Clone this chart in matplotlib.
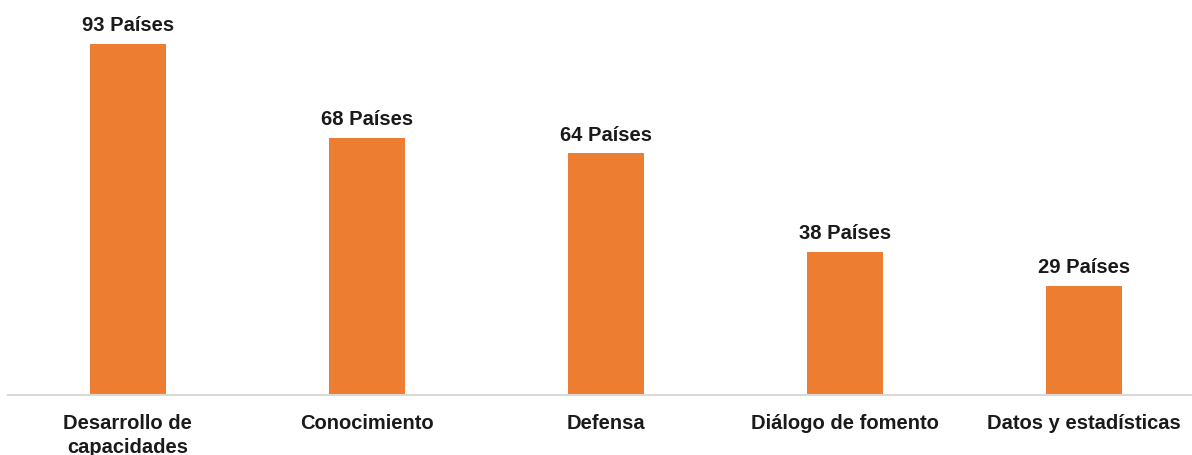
import matplotlib
matplotlib.use("Agg")
import matplotlib.pyplot as plt

categories = ["Desarrollo de\ncapacidades", "Conocimiento", "Defensa",
              "Diálogo de fomento", "Datos y estadísticas"]
values = [93, 68, 64, 38, 29]
value_labels = [f"{v} Países" for v in values]

plt.rcParams['font.family'] = ['Liberation Sans', 'DejaVu Sans']

fig = plt.figure(figsize=(11.92, 4.56), dpi=100)
ax = fig.add_axes([8/1192, 1 - 396/456, 1 - 8/1192, 396/456])

x = list(range(len(categories)))
bars = ax.bar(x, values, width=0.318, color="#ED7D31", zorder=2)

for xi, v, lab in zip(x, values, value_labels):
    ax.annotate(lab, (xi, v), xytext=(0, 10), textcoords="offset points",
                ha="center", va="baseline", fontsize=14.5, fontweight="bold",
                color="#1a1a1a")

ax.set_xlim(-0.5, 4.45)
ax.set_ylim(0, 396/3.774)
ax.set_xticks(x)
ax.set_xticklabels(categories, fontsize=14.5, fontweight="bold", color="#1a1a1a",
                   linespacing=1.3)
ax.tick_params(axis="x", length=0, pad=13)
ax.set_yticks([])
for s in ["top", "right", "left"]:
    ax.spines[s].set_visible(False)
ax.spines["bottom"].set_color("#D9D9D9")
ax.spines["bottom"].set_linewidth(1.5)

fig.savefig("out.png", dpi=100)
